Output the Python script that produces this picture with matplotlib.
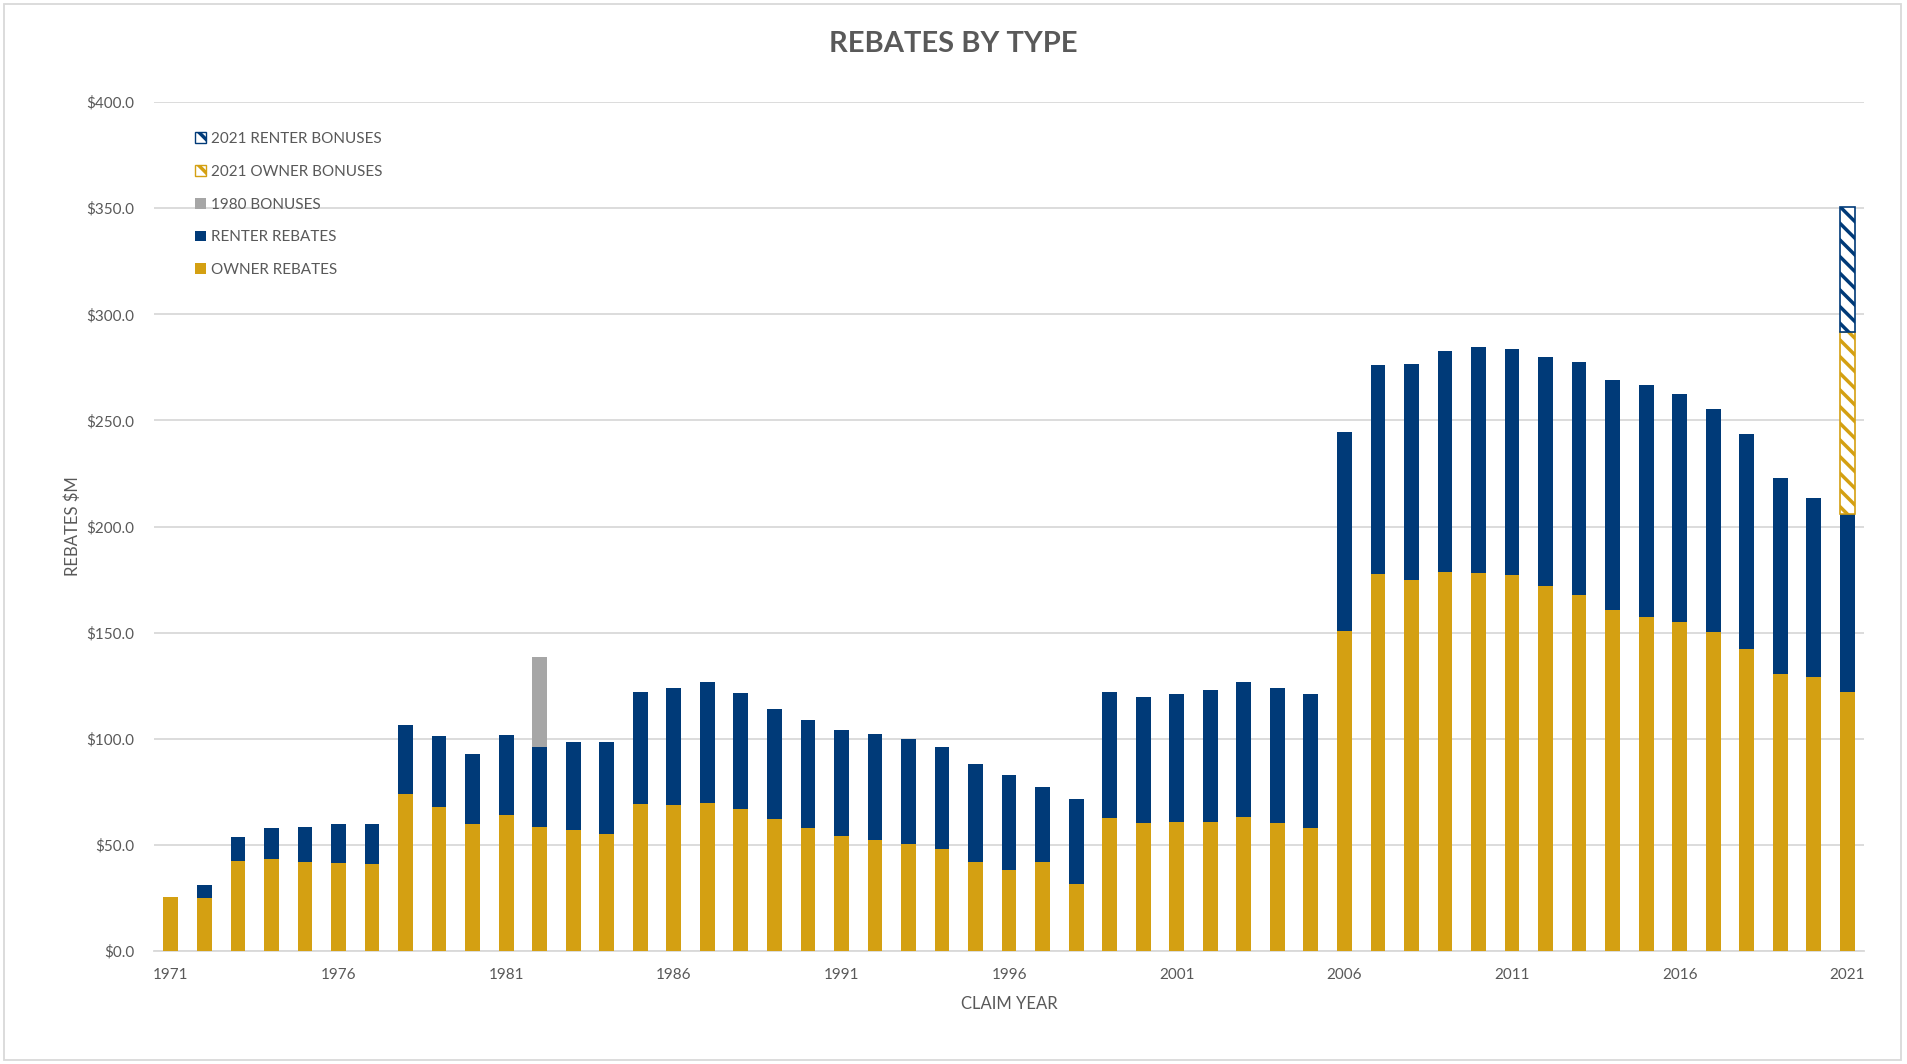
import matplotlib
matplotlib.use("Agg")
import matplotlib.pyplot as plt
from matplotlib.patches import Rectangle, Patch
from matplotlib.ticker import FuncFormatter

plt.rcParams['font.family'] = ['Lato', 'DejaVu Sans']
plt.rcParams['hatch.linewidth'] = 2.5

# data ($M)
years = list(range(1971, 2022))
owner_rebates = [25.6, 24.8, 42.6, 43.4, 41.9, 41.6, 41.2, 74.1, 68.0, 59.8,
                 63.9, 58.3, 56.9, 55.0, 69.4, 68.8, 69.9, 66.8, 62.2, 58.0,
                 54.4, 52.3, 50.6, 48.2, 42.1, 38.0, 41.8, 31.4, 62.7, 60.4,
                 60.8, 61.0, 63.0, 60.4, 57.8, 150.9, 177.5, 174.7, 178.8, 178.1,
                 177.1, 172.1, 167.7, 160.8, 157.6, 155.2, 150.4, 142.2, 130.7, 129.0,
                 121.9]
renter_rebates = [0.0, 6.3, 11.0, 14.7, 16.5, 18.1, 18.8, 32.4, 33.5, 33.2,
                  37.7, 38.0, 41.4, 43.6, 52.5, 55.0, 56.7, 54.6, 52.0, 50.9,
                  49.9, 50.0, 49.1, 48.1, 45.9, 45.1, 35.6, 40.2, 59.1, 59.1,
                  60.4, 62.2, 63.8, 63.4, 63.2, 93.7, 98.7, 102.1, 103.7, 106.5,
                  106.7, 108.0, 109.8, 108.2, 109.3, 107.1, 105.0, 101.5, 92.0, 84.4,
                  84.2]
bonus_1980_year = [1982]
bonus_1980 = [42.2]
bonus_2021_year = [2021]
owner_bonus_2021 = [85.7]
renter_bonus_2021 = [58.8]

GOLD = '#D4A012'
NAVY = '#003A78'
GREY = '#A6A6A6'
TXT = '#595959'
GRID = '#D9D9D9'

fig = plt.figure(figsize=(19.07, 10.64), dpi=100)
ax = fig.add_axes([0.0808, 0.1062, 0.8967, 0.7979])

x = list(range(len(years)))
w = 0.44
ax.bar(x, owner_rebates, w, color=GOLD, linewidth=0, zorder=3)
ax.bar(x, renter_rebates, w, bottom=owner_rebates, color=NAVY, linewidth=0, zorder=3)

tot = {y: o + r for y, o, r in zip(years, owner_rebates, renter_rebates)}
bx = [years.index(y) for y in bonus_1980_year]
ax.bar(bx, bonus_1980, w, bottom=[tot[y] for y in bonus_1980_year],
       color=GREY, linewidth=0, zorder=3)

hx = [years.index(y) for y in bonus_2021_year]
base = [tot[y] for y in bonus_2021_year]
ax.bar(hx, owner_bonus_2021, w, bottom=base, facecolor='white', edgecolor=GOLD,
       hatch='\\\\', linewidth=1.2, zorder=3)
base2 = [b + v for b, v in zip(base, owner_bonus_2021)]
ax.bar(hx, renter_bonus_2021, w, bottom=base2, facecolor='white', edgecolor=NAVY,
       hatch='\\\\', linewidth=1.2, zorder=3)

ax.set_xlim(-0.5, len(years) - 0.5)
ax.set_ylim(0, 400)
ax.set_yticks(range(0, 401, 50))
ax.yaxis.set_major_formatter(FuncFormatter(lambda v, p: '${:.1f}'.format(v)))
ticks = [i for i, y in enumerate(years) if (y - 1971) % 5 == 0]
ax.set_xticks(ticks)
ax.set_xticklabels([str(years[i]) for i in ticks])
ax.tick_params(axis='both', length=0, labelsize=11, labelcolor=TXT)
ax.tick_params(axis='x', pad=12)
ax.tick_params(axis='y', pad=14)
ax.grid(axis='y', color=GRID, linewidth=1.3, zorder=0)
for s in ['left', 'right', 'top']:
    ax.spines[s].set_visible(False)
ax.spines['bottom'].set_color(GRID)
ax.spines['bottom'].set_linewidth(1.3)

ax.set_xlabel('CLAIM YEAR', fontsize=12, color=TXT, labelpad=10)
ax.set_ylabel('REBATES $M', fontsize=12, color=TXT, labelpad=4)
fig.text(0.5, 0.9585, 'REBATES BY TYPE', ha='center', va='center',
         fontsize=21, fontweight='bold', color=TXT)

handles = [
    Patch(facecolor='white', edgecolor=NAVY, hatch='\\\\', linewidth=1),
    Patch(facecolor='white', edgecolor=GOLD, hatch='\\\\', linewidth=1),
    Patch(facecolor=GREY),
    Patch(facecolor=NAVY),
    Patch(facecolor=GOLD),
]
labels = ['2021 RENTER BONUSES', '2021 OWNER BONUSES', '1980 BONUSES',
          'RENTER REBATES', 'OWNER REBATES']
leg = ax.legend(handles, labels, loc='upper left', bbox_to_anchor=(0.0205, 0.972),
                frameon=False, fontsize=11, handlelength=0.7, handleheight=0.7,
                handletextpad=0.3, labelspacing=1.23, borderaxespad=0)
for t in leg.get_texts():
    t.set_color(TXT)

fig.patches.append(Rectangle((4 / 1907, 4 / 1064), 1897 / 1907, 1056 / 1064,
                             transform=fig.transFigure, fill=False,
                             edgecolor=GRID, linewidth=1.3))

fig.savefig('out.png', dpi=100)
